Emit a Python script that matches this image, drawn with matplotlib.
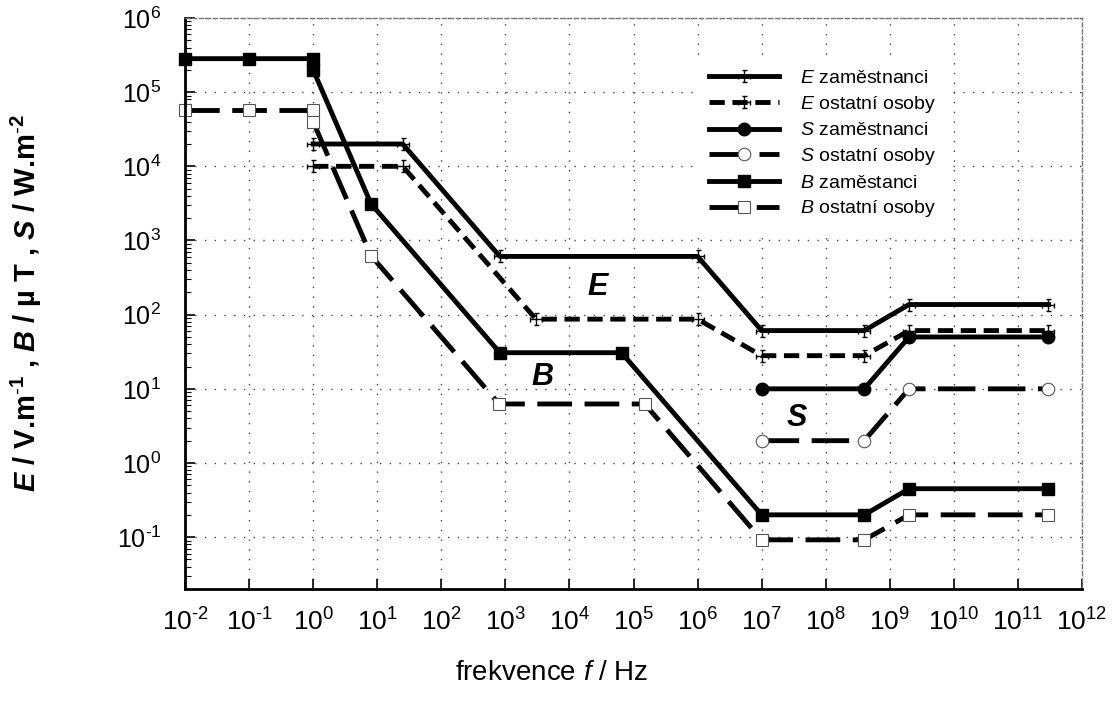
import math
import matplotlib
matplotlib.use("Agg")
import matplotlib.pyplot as plt
from matplotlib.path import Path
from matplotlib.ticker import FuncFormatter

plt.rcParams['font.family'] = ['Liberation Sans', 'DejaVu Sans']
plt.rcParams['mathtext.fontset'] = 'custom'
plt.rcParams['mathtext.rm'] = 'Liberation Sans'
plt.rcParams['mathtext.it'] = 'Liberation Sans:italic'
plt.rcParams['mathtext.bf'] = 'Liberation Sans:bold'
plt.rcParams['mathtext.bfit'] = 'Liberation Sans:italic:bold'
plt.rcParams['axes.unicode_minus'] = False
plt.rcParams['lines.scale_dashes'] = False

# limitní hodnoty podle frekvence
E_zam_f = [1, 25, 820, 1e6, 1e7, 4e8, 2e9, 3e11]
E_zam = [2e4, 2e4, 610, 610, 61, 61, 137, 137]
E_ost_f = [1, 25, 3e3, 1e6, 1e7, 4e8, 2e9, 3e11]
E_ost = [1e4, 1e4, 87, 87, 28, 28, 61, 61]

S_f = [1e7, 4e8, 2e9, 3e11]
S_zam = [10, 10, 50, 50]
S_ost = [2, 2, 10, 10]

B_zam_f = [1e-2, 1e-1, 1, 1, 8, 820, 6.5e4, 1e7, 4e8, 2e9, 3e11]
B_zam = [2.83e5, 2.83e5, 2.83e5, 2e5, 3125, 30.7, 30.7, 0.2, 0.2, 0.45, 0.45]
B_ost_f = [1e-2, 1e-1, 1, 1, 8, 800, 1.5e5, 1e7, 4e8, 2e9, 3e11]
B_ost = [5.66e4, 5.66e4, 5.66e4, 4e4, 625, 6.25, 6.25, 0.092, 0.092, 0.2, 0.2]

x_exp = list(range(-2, 13))
y_exp = list(range(-1, 7))

# znacka typu "chybova usecka" v obou smerech
c = 0.4
kriz = Path(
    [(-1, 0), (1, 0), (-1, -c), (-1, c), (1, -c), (1, c),
     (0, -1), (0, 1), (-c, -1), (c, -1), (-c, 1), (c, 1)],
    [Path.MOVETO, Path.LINETO] * 6)


def mocnina(v, pos):
    k = int(round(math.log10(v)))
    s = str(abs(k))
    if k < 0:
        s = r'\text{-}' + s
    return r'$\mathdefault{10^{' + s + '}}$'


fig = plt.figure(figsize=(11.13, 7.07), dpi=100)
ax = fig.add_axes([185 / 1113, 1 - 589 / 707, 897 / 1113, 571 / 707])

lw = 3.5
ax.plot(E_zam_f, E_zam, color='black', lw=lw, marker=kriz, ms=9,
        mfc='none', mec='black', mew=1.0, clip_on=False,
        label=r'$\mathit{E}$ zaměstnanci')
ax.plot(E_ost_f, E_ost, color='black', lw=lw, ls=(0, (11, 5.5)), marker=kriz, ms=9,
        mfc='none', mec='black', mew=1.0, clip_on=False,
        label=r'$\mathit{E}$ ostatní osoby')
ax.plot(S_f, S_zam, color='black', lw=lw, marker='o', ms=9,
        mfc='black', mec='black', clip_on=False,
        label=r'$\mathit{S}$ zaměstnanci')
ax.plot(S_f, S_ost, color='black', lw=lw, ls=(0, (27, 9)), marker='o', ms=9,
        mfc='white', mec='#555555', mew=0.8, clip_on=False,
        label=r'$\mathit{S}$ ostatní osoby')
ax.plot(B_zam_f, B_zam, color='black', lw=lw, marker='s', ms=9,
        mfc='black', mec='black', clip_on=False,
        label=r'$\mathit{B}$ zaměstanci')
ax.plot(B_ost_f, B_ost, color='black', lw=lw, ls=(0, (25, 9)), marker='s', ms=9,
        mfc='white', mec='#555555', mew=0.8, clip_on=False,
        label=r'$\mathit{B}$ ostatní osoby')

ax.set_xscale('log')
ax.set_yscale('log')
ax.set_xlim(1e-2, 1e12)
ax.set_ylim(2e-2, 1e6)
ax.set_xticks([10.0 ** k for k in x_exp])
ax.set_yticks([10.0 ** k for k in y_exp])
ax.xaxis.set_major_formatter(FuncFormatter(mocnina))
ax.yaxis.set_major_formatter(FuncFormatter(mocnina))

ax.grid(True, which='major', color='#444444', ls=(0, (1, 6)), lw=1.0)
ax.tick_params(which='both', direction='in', top=False, right=False)
ax.tick_params(which='major', length=7, width=1.2)
ax.tick_params(which='minor', length=4, width=0.8)
ax.tick_params(axis='y', labelsize=18, pad=17)
ax.tick_params(axis='x', labelsize=19, pad=14)

for s in ('left', 'bottom'):
    ax.spines[s].set_linewidth(2)
    ax.spines[s].set_color('black')
for s in ('top', 'right'):
    ax.spines[s].set_linewidth(1)
    ax.spines[s].set_color('#777777')
    ax.spines[s].set_linestyle((0, (3, 2)))

ax.set_xlabel(r'frekvence $\mathit{f}$ / Hz', fontsize=20)
ax.xaxis.set_label_coords((552 - 185) / 897, -0.125)
ax.set_ylabel(r'$\mathbfit{E}$ / V.m$^{\mathbf{\text{-}1}}$ , $\mathbfit{B}$ / µ T , '
              r'$\mathbfit{S}$ / W.m$^{\mathbf{\text{-}2}}$',
              fontsize=21, fontweight='bold')
ax.yaxis.set_label_coords(-(185 - 44) / 897, 0.5)

# popisky skupin primo v grafu
for txt, xx, yy in [('E', 2.8e4, 237), ('B', 3.8e3, 14.5), ('S', 3.5e7, 4.1)]:
    ax.text(xx, yy, txt, fontsize=22, fontstyle='italic', fontweight='bold',
            ha='center', va='center')

leg = ax.legend(loc='upper left', bbox_to_anchor=(695 / 1113, 1 - 56 / 707),
                bbox_transform=fig.transFigure, borderaxespad=0, borderpad=0.7,
                fontsize=14, handlelength=3.6, handletextpad=1.1, labelspacing=0.35,
                frameon=True, fancybox=False, framealpha=1, edgecolor='none')

fig.savefig('out.png', dpi=100)
